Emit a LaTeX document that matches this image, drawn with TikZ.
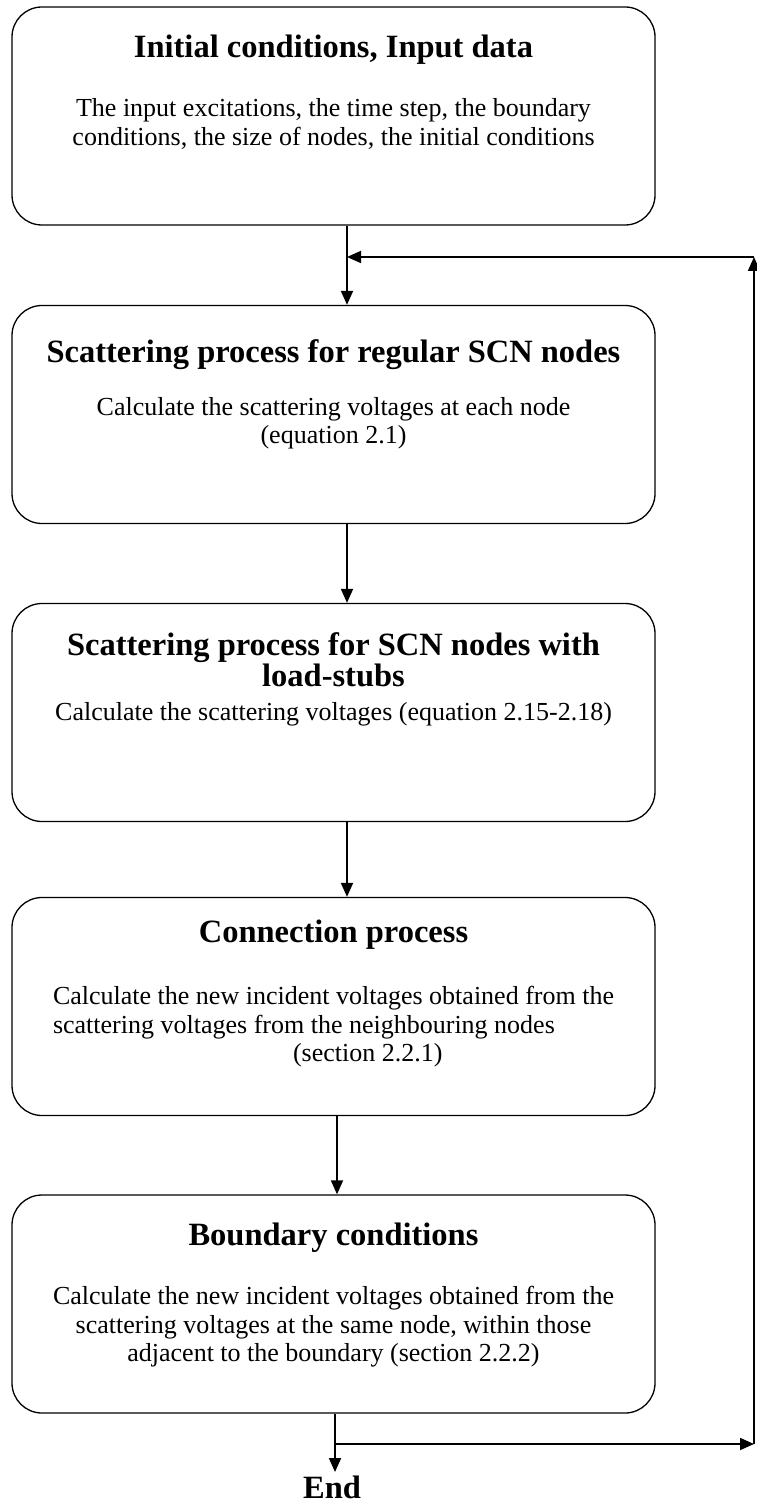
\documentclass[tikz,border=0pt]{standalone}
\usepackage{fontspec}
\setmainfont{Liberation Serif}
\usetikzlibrary{calc, positioning, arrows.meta}
\tikzset{
    stagebox/.style={draw=black, line width=1.3pt, rounded corners=30pt, minimum width=643pt, minimum height=218pt, inner sep=0pt},
    headtext/.style={font=\fontsize{32.5}{31.5}\selectfont\bfseries, align=center, inner sep=0pt},
    bodytext/.style={font=\fontsize{26}{28.5}\selectfont, align=center, inner sep=0pt},
    flowarrow/.style={-{Triangle[length=14pt,width=12pt]}, line width=1.8pt}
}
\begin{document}
\begin{tikzpicture}[x=1pt,y=-1pt]
    \useasboundingbox (0,0) rectangle (756,1503);
    % boxes
    \node[stagebox] (init) at (333.5,116) {};
    \node[stagebox] (scat) at (333.5,414.5) {};
    \node[stagebox] (stub) at (333.5,712.5) {};
    \node[stagebox] (conn) at (333.5,1006.5) {};
    \node[stagebox] (bound) at (333.5,1304) {};
    % texts
    \node[headtext] (initT) at (333.5,50) {Initial conditions, Input data};
    \node[bodytext] (initB) at (333.5,124) {The input excitations, the time step, the boundary\\conditions, the size of nodes, the initial conditions};
    \node[headtext] (scatT) at (333.5,355) {Scattering process for regular SCN nodes};
    \node[bodytext] (scatB) at (333.5,423) {Calculate the scattering voltages at each node\\(equation 2.1)};
    \node[headtext] (stubT) at (333.5,660) {Scattering process for SCN nodes with\\load-stubs};
    \node[bodytext] (stubB) at (333.5,714) {Calculate the scattering voltages (equation 2.15-2.18)};
    \node[headtext] (connT) at (333.5,935) {Connection process};
    \node[bodytext, align=left] (connB) at (333.5,1027) {Calculate the new incident voltages obtained from the\\scattering voltages from the neighbouring nodes\\\hspace*{240pt}(section 2.2.1)};
    \node[headtext] (boundT) at (333.5,1238) {Boundary conditions};
    \node[bodytext] (boundB) at (333.5,1327) {Calculate the new incident voltages obtained from the\\scattering voltages at the same node, within those\\adjacent to the boundary (section 2.2.2)};
    \node[headtext, anchor=base] (finish) at (332,1498) {End};
    % loop corners
    \coordinate (jtop) at (347,257);
    \coordinate (rtop) at (754,257);
    \coordinate (jbot) at (335,1444);
    \coordinate (rbot) at (754,1444);
    \coordinate (endtip) at (335,1472);
    % arrows
    \draw[flowarrow] ([xshift=13.5pt]init.south) -- ([xshift=13.5pt]scat.north);
    \draw[flowarrow] ([xshift=13.5pt]scat.south) -- ([xshift=13.5pt]stub.north);
    \draw[flowarrow] ([xshift=13.5pt]stub.south) -- ([xshift=13.5pt]conn.north);
    \draw[flowarrow] ([xshift=3.5pt]conn.south) -- ([xshift=3.5pt]bound.north);
    \draw[flowarrow] ([xshift=1.5pt]bound.south) -- (endtip);
    \draw[flowarrow] (jbot) -- (rbot);
    \draw[flowarrow] (rbot) -- (rtop);
    \draw[flowarrow] (rtop) -- (jtop);
\end{tikzpicture}
\end{document}
